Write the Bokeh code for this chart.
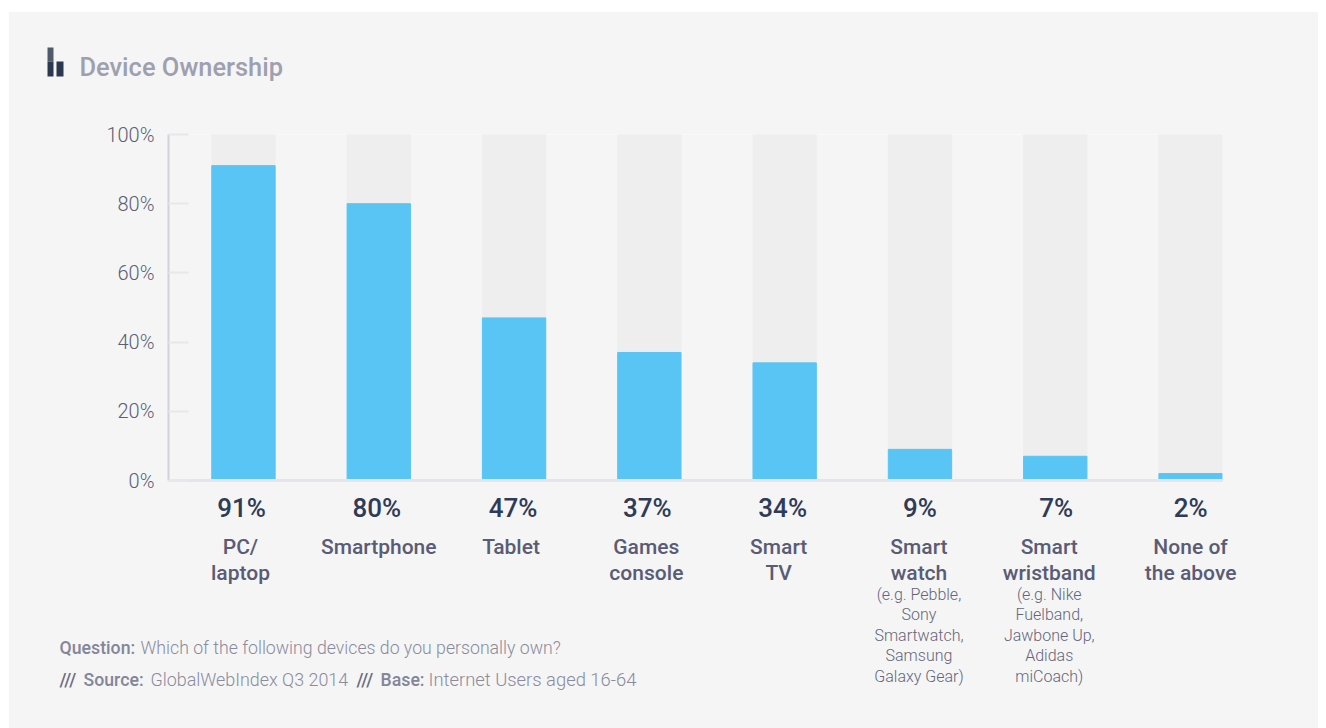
from bokeh.plotting import figure
from bokeh.models import Range1d, FixedTicker, ColumnDataSource
from bokeh.core.properties import value
from bokeh.embed import file_html
from bokeh.resources import INLINE

categories = ["PC/\nlaptop", "Smartphone", "Tablet", "Games\nconsole", "Smart\nTV",
              "Smart\nwatch", "Smart\nwristband", "None of\nthe above"]
details = ["", "", "", "", "",
           "(e.g. Pebble,\nSony\nSmartwatch,\nSamsung\nGalaxy Gear)",
           "(e.g. Nike\nFuelband,\nJawbone Up,\nAdidas\nmiCoach)", ""]
ownership = [91, 80, 47, 37, 34, 9, 7, 2]
full_scale = [100] * 8
shown_values = ["91%", "80%", "47%", "37%", "34%", "9%", "7%", "2%"]
y_ticks = [0, 20, 40, 60, 80, 100]
y_tick_labels = {0: "0%", 20: "20%", 40: "40%", 60: "60%", 80: "80%", 100: "100%"}

W, H = 1310, 717
FRAME_LEFT, FRAME_BOTTOM, FRAME_TOP, FRAME_RIGHT = 168, 480, 134, 1222
X0, X1 = -0.554, 7.236
HEAD = "Roboto Medium"
LIGHT = "Roboto Light"

idx = list(range(len(categories)))
src = ColumnDataSource(dict(
    x=idx, own=ownership, full=full_scale, shown=shown_values,
    cat=categories, det=details,
    val_dx=[-2, -2, -1, -2, -2, 0, 1, 0],
    cat_dx=[-3, 0, -3, -3, -6, -1, -6, 0],
))

p = figure(width=W, height=H, output_backend="svg", toolbar_location=None,
           x_range=Range1d(X0, X1), y_range=Range1d(0, 100),
           min_border_left=160, min_border_right=96, min_border_top=123, min_border_bottom=248,
           background_fill_color="#f5f5f5", border_fill_color="#f5f5f5",
           outline_line_color=None, margin=(11, 0, 0, 8))
p.grid.visible = False

p.vbar(x="x", top="full", bottom=0, width=0.468, source=src, color="#eeeeee")
p.vbar(x="x", top="own", bottom=0, width=0.468, source=src, color="#58c5f5")

ya = p.yaxis[0]
ya.ticker = FixedTicker(ticks=y_ticks)
ya.major_label_overrides = y_tick_labels
ya.axis_line_color = "#d2d2d8"
ya.axis_line_width = 2
ya.major_tick_in = 20
ya.major_tick_out = 0
ya.major_tick_line_color = "#e8e8ec"
ya.major_tick_line_width = 2
ya.minor_tick_line_color = None
ya.major_label_standoff = 14
ya.major_label_text_font = LIGHT
ya.major_label_text_font_size = "20px"
ya.major_label_text_color = "#5c5e76"

xa = p.xaxis[0]
xa.axis_line_color = "#e4e4ea"
xa.axis_line_width = 3
xa.major_tick_line_color = None
xa.minor_tick_line_color = None
xa.major_label_text_color = None
xa.major_label_text_font_size = "1px"

p.text(x="x", y=0, text="shown", source=src, level="overlay", x_offset="val_dx", y_offset=12,
       text_align="center", text_baseline="top", text_font=value(HEAD), text_font_size="26px",
       text_color="#2f3b57")
p.text(x="x", y=0, text="cat", source=src, level="overlay", x_offset="cat_dx", y_offset=54,
       text_align="center", text_baseline="top", text_font=value(HEAD), text_font_size="21px",
       text_line_height=1.11, text_color="#5a5c76")
p.text(x="x", y=0, text="det", source=src, level="overlay", x_offset="cat_dx", y_offset=104,
       text_align="center", text_baseline="top", text_font=value(LIGHT), text_font_size="16px",
       text_line_height=1.08, text_color="#63657c")


def page_text(px, py, text, font, size, color):
    # anchored at the frame's lower-left corner, offset in pixels
    p.text(x=[X0], y=[0], text=[text], x_offset=px - FRAME_LEFT, y_offset=py - FRAME_BOTTOM,
           level="overlay", text_align="left", text_baseline="middle",
           text_font=value(font), text_font_size=size, text_color=color)


def icon_box(left, right, top, bottom, color):
    ux = (X1 - X0) / (FRAME_RIGHT - FRAME_LEFT)
    uy = 100 / (FRAME_BOTTOM - FRAME_TOP)
    p.quad(left=[X0 + (left - FRAME_LEFT) * ux], right=[X0 + (right - FRAME_LEFT) * ux],
           top=[(FRAME_BOTTOM - top) * uy], bottom=[(FRAME_BOTTOM - bottom) * uy],
           fill_color=color, line_color=None, level="overlay")


icon_box(47, 53, 47, 61, "#4f5b68")
icon_box(47, 53, 61, 76, "#2a3850")
icon_box(56, 63, 61, 76, "#2a3850")

page_text(79, 66, "Device Ownership", HEAD, "25.4px", "#9ea0b0")
page_text(59, 647, "Question:", HEAD, "17.7px", "#84869a")
page_text(140, 647, "Which of the following devices do you personally own?", LIGHT, "17.7px", "#8a8c9e")
page_text(59, 679, "///", HEAD, "17.7px", "#6a6c80")
page_text(83, 679, "Source:", HEAD, "17.7px", "#84869a")
page_text(150, 679, "GlobalWebIndex Q3 2014", LIGHT, "17.9px", "#8a8c9e")
page_text(356, 679, "///", HEAD, "17.7px", "#6a6c80")
page_text(380, 679, "Base:", HEAD, "17.7px", "#84869a")
page_text(428, 679, "Internet Users aged 16-64", LIGHT, "18.4px", "#8a8c9e")

open("out.html", "w").write(file_html(p, INLINE))
